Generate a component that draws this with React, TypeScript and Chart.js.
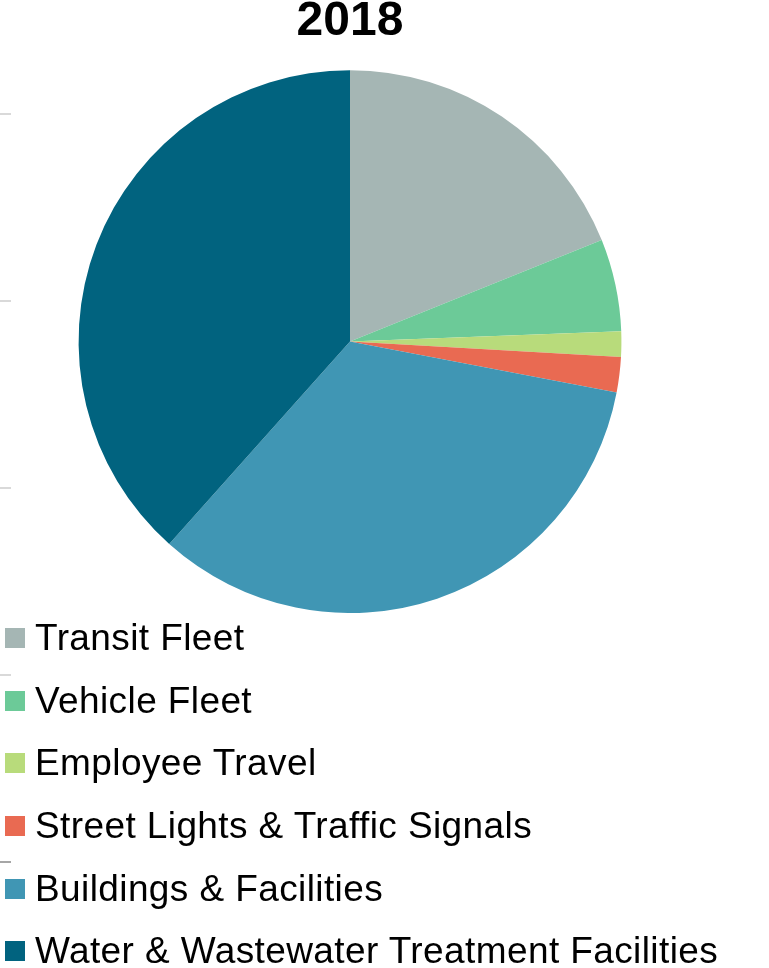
import React, { useEffect, useRef } from "react";
import { Chart, registerables } from "chart.js";

Chart.register(...registerables);

const title = "2018";
const categories = [
  "Transit Fleet",
  "Vehicle Fleet",
  "Employee Travel",
  "Street Lights & Traffic Signals",
  "Buildings & Facilities",
  "Water & Wastewater Treatment Facilities",
];
const shares = [18.9, 5.5, 1.5, 2.1, 33.6, 38.4];
const colors = ["#A5B6B4", "#6CCA98", "#B8DB7B", "#E96A52", "#4096B4", "#01637F"];

const tickMarks = [
  { y: 114, c: "#d9d9d9" },
  { y: 301, c: "#d9d9d9" },
  { y: 488, c: "#d9d9d9" },
  { y: 675, c: "#d9d9d9" },
  { y: 862, c: "#a6a6a6" },
];

export default function App() {
  const ref = useRef<HTMLCanvasElement | null>(null);

  useEffect(() => {
    if (!ref.current) return;
    const chart = new Chart(ref.current, {
      type: "pie",
      data: {
        labels: categories,
        datasets: [
          {
            data: shares,
            backgroundColor: colors,
            borderWidth: 0,
          },
        ],
      },
      options: {
        animation: false,
        responsive: false,
        maintainAspectRatio: false,
        layout: { padding: 0 },
        plugins: {
          legend: { display: false },
          tooltip: { enabled: false },
          title: {
            display: true,
            text: title,
            color: "#000",
            font: { family: "'Liberation Sans', Arial, sans-serif", size: 48, weight: "bold", lineHeight: 0.92 },
            padding: { top: 0, bottom: 26 },
          },
        },
      },
    });
    return () => chart.destroy();
  }, []);

  return (
    <div style={{ position: "absolute", left: 0, top: 0, width: 769, height: 968, background: "#fff", overflow: "hidden" }}>
      {tickMarks.map((t, i) => (
        <div key={i} style={{ position: "absolute", left: 0, top: t.y - 1, width: 11, height: 2, background: t.c }} />
      ))}
      <canvas ref={ref} width={700} height={613} style={{ position: "absolute", left: 0, top: 0, width: 700, height: 613 }} />
      <div style={{ position: "absolute", left: 5, top: 607, fontFamily: "'Liberation Sans', Arial, sans-serif", fontSize: 37, color: "#000" }}>
        {categories.map((c, i) => (
          <div key={c} style={{ display: "flex", alignItems: "center", height: 62.6, whiteSpace: "nowrap" }}>
            <span style={{ display: "inline-block", width: 20, height: 20, background: colors[i], marginRight: 10 }} />
            <span style={{ letterSpacing: 0.4 }}>{c}</span>
          </div>
        ))}
      </div>
    </div>
  );
}
